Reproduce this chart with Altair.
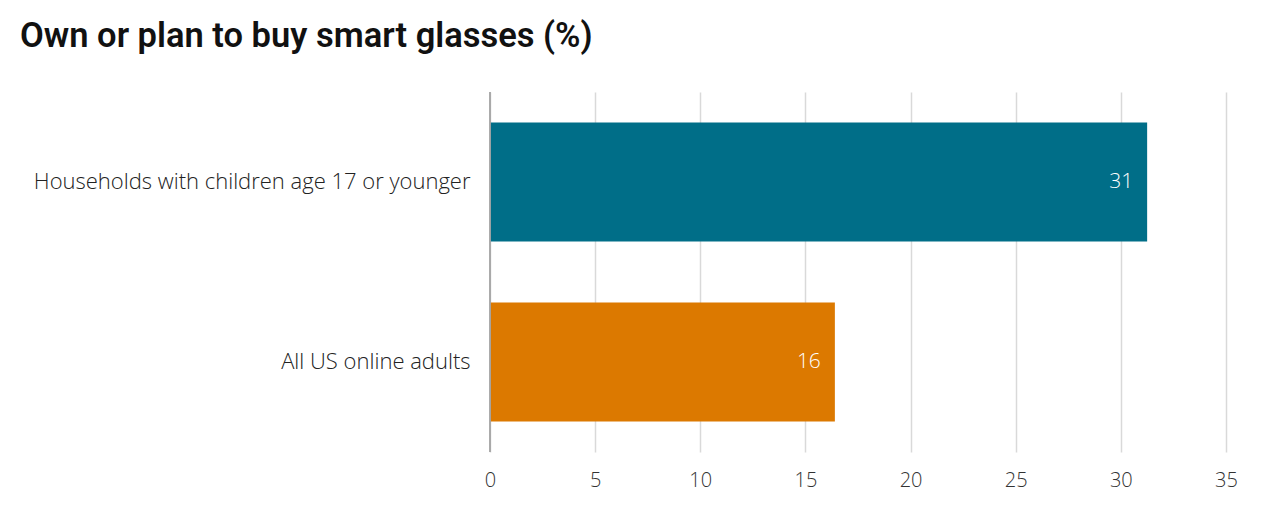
import altair as alt
import pandas as pd

groups = ["Households with children age 17 or younger", "All US online adults"]
values = [31.25, 16.4]
colors = ["#006E88", "#DC7900"]

df = pd.DataFrame({"group": groups, "value": values, "color": colors})

font = "Open Sans"

y_enc = alt.Y("group:N", sort=groups, title=None,
              scale=alt.Scale(paddingInner=0.34, paddingOuter=0.17),
              axis=alt.Axis(labelFontSize=22, labelFont=font, labelFontWeight=300,
                            labelColor="#222222", labelPadding=20, ticks=False,
                            domain=False, labelLimit=470))

x_enc = alt.X("value:Q", title=None,
              scale=alt.Scale(domain=[0, 35], nice=False),
              axis=alt.Axis(values=[0, 5, 10, 15, 20, 25, 30, 35], labelFontSize=20,
                            labelFont=font, labelFontWeight=300, labelColor="#333333",
                            labelPadding=18, ticks=False, domain=False,
                            gridColor="#d9d9d9", gridWidth=1.5, labelFlush=False))

bars = alt.Chart(df).mark_bar().encode(
    x=x_enc,
    y=y_enc,
    color=alt.Color("color:N", scale=None),
)

labels = alt.Chart(df).mark_text(align="right", dx=-14, fontSize=21, font=font,
                                 fontWeight=300, color="white").encode(
    x="value:Q",
    y=alt.Y("group:N", sort=groups),
    text=alt.Text("value:Q", format=".0f"),
)

zero = alt.Chart(df).mark_rule(color="#a6a6a6", strokeWidth=1.5).encode(
    x=alt.datum(0),
    y=alt.value(0),
    y2=alt.value(360),
)

chart = (bars + labels + zero).properties(
    width=736,
    height=360,
    autosize=alt.AutoSizeParams(type="none"),
    padding={"left": 482, "top": 84, "right": 46, "bottom": 60},
    title=alt.TitleParams("Own or plan to buy smart glasses (%)", anchor="start",
                          frame="group", dx=-470, offset=37, fontSize=34.5,
                          font="Roboto", fontWeight=600, color="#111111"),
).configure_view(strokeOpacity=0)

chart.save("out.html", embed_options={"renderer": "svg", "actions": False})
